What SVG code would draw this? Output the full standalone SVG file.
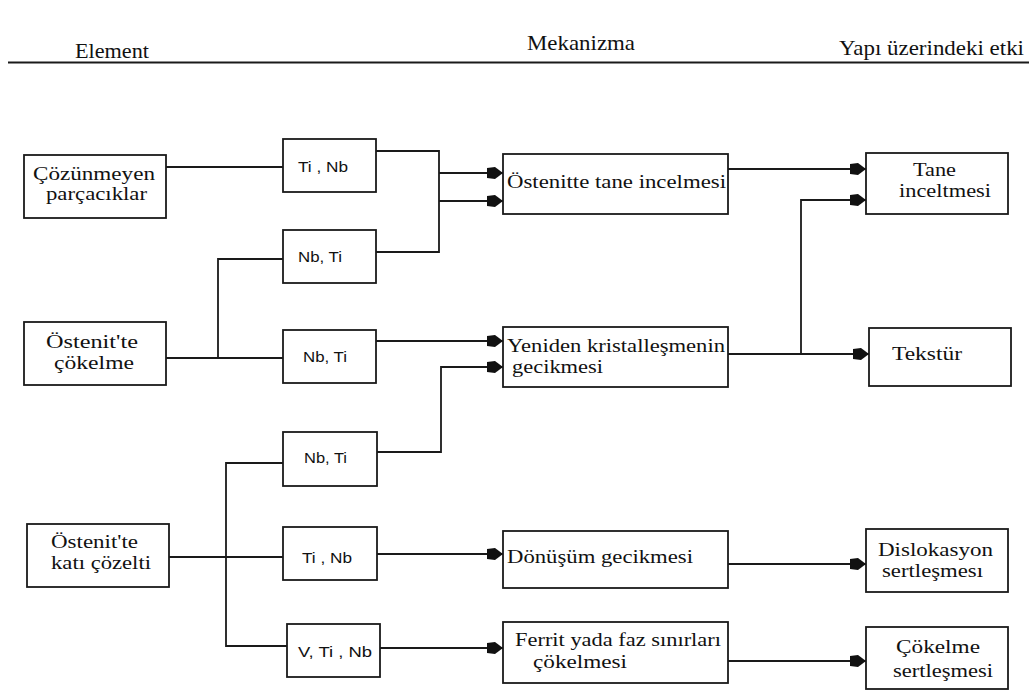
<svg xmlns="http://www.w3.org/2000/svg" width="1029" height="692" viewBox="0 0 1029 692">
<style>
.box{fill:#fff;stroke:#1a1a1a;stroke-width:1.8}
.ln{fill:none;stroke:#1a1a1a;stroke-width:1.8}
.h{font-family:"Liberation Serif","Times New Roman",serif;font-size:22px;fill:#111}
.t{font-family:"Liberation Serif","Times New Roman",serif;font-size:18px;fill:#111}
.s{font-family:"Liberation Sans",Arial,sans-serif;font-size:14px;fill:#111}
</style>
<defs>
<marker id="ah" markerUnits="userSpaceOnUse" markerWidth="18" markerHeight="14" viewBox="-17 -7 18 14" refX="0" refY="0" orient="auto">
<path d="M-16,-5 L-8,-6 L0,0 L-8,6 L-16,5 Z" fill="#111"/>
</marker>
</defs>
<rect width="1029" height="692" fill="#fff"/>
<g id="header">
<text class="h" x="75" y="58" textLength="74" lengthAdjust="spacingAndGlyphs">Element</text>
<text class="h" x="527" y="50" textLength="108" lengthAdjust="spacingAndGlyphs">Mekanizma</text>
<text class="h" x="839" y="55" textLength="185" lengthAdjust="spacingAndGlyphs">Yapı üzerindeki etki</text>
<line x1="8" y1="62.5" x2="1029" y2="62.5" stroke="#1a1a1a" stroke-width="2.2"/>
</g>
<g id="connectors">
<path class="ln" d="M166,167 H283"/>
<path class="ln" d="M376,151 H439 V252 H376"/>
<path class="ln" d="M439,173 H503" marker-end="url(#ah)"/>
<path class="ln" d="M439,201 H503" marker-end="url(#ah)"/>
<path class="ln" d="M166,358 H283"/>
<path class="ln" d="M218,358 V259 H283"/>
<path class="ln" d="M376,341 H503" marker-end="url(#ah)"/>
<path class="ln" d="M377,452 H441 V367 H503" marker-end="url(#ah)"/>
<path class="ln" d="M169,557 H283"/>
<path class="ln" d="M283,463 H226 V646 H287"/>
<path class="ln" d="M377,554 H503" marker-end="url(#ah)"/>
<path class="ln" d="M380,648 H503" marker-end="url(#ah)"/>
<path class="ln" d="M728,169 H866" marker-end="url(#ah)"/>
<path class="ln" d="M728,354 H869" marker-end="url(#ah)"/>
<path class="ln" d="M801,354 V200 H866" marker-end="url(#ah)"/>
<path class="ln" d="M728,564 H866" marker-end="url(#ah)"/>
<path class="ln" d="M728,661 H866" marker-end="url(#ah)"/>
</g>
<g id="n-cozunmeyen">
<rect class="box" x="24" y="155" width="142" height="63"/>
<text class="t" x="33" y="180" textLength="122" lengthAdjust="spacingAndGlyphs">Çözünmeyen</text>
<text class="t" x="46" y="200" textLength="101" lengthAdjust="spacingAndGlyphs">parçacıklar</text>
</g>
<g id="n-ostenit-cokelme">
<rect class="box" x="24" y="322" width="142" height="63"/>
<text class="t" x="46" y="348" textLength="92" lengthAdjust="spacingAndGlyphs">Östenit'te</text>
<text class="t" x="54" y="369" textLength="80" lengthAdjust="spacingAndGlyphs">çökelme</text>
</g>
<g id="n-ostenit-kati">
<rect class="box" x="27" y="524" width="142" height="63"/>
<text class="t" x="51" y="548" textLength="87" lengthAdjust="spacingAndGlyphs">Östenit'te</text>
<text class="t" x="51" y="569" textLength="100" lengthAdjust="spacingAndGlyphs">katı çözelti</text>
</g>
<g id="e1">
<rect class="box" x="283" y="139" width="93" height="53"/>
<text class="s" x="298" y="172" textLength="50" lengthAdjust="spacingAndGlyphs">Ti ,  Nb</text>
</g>
<g id="e2">
<rect class="box" x="283" y="230" width="93" height="53"/>
<text class="s" x="298" y="262" textLength="44" lengthAdjust="spacingAndGlyphs">Nb, Ti</text>
</g>
<g id="e3">
<rect class="box" x="283" y="330" width="93" height="53"/>
<text class="s" x="303" y="362" textLength="44" lengthAdjust="spacingAndGlyphs">Nb, Ti</text>
</g>
<g id="e4">
<rect class="box" x="283" y="432" width="94" height="54"/>
<text class="s" x="304" y="463" textLength="43" lengthAdjust="spacingAndGlyphs">Nb, Ti</text>
</g>
<g id="e5">
<rect class="box" x="283" y="527" width="94" height="53"/>
<text class="s" x="302" y="563" textLength="50" lengthAdjust="spacingAndGlyphs">Ti ,  Nb</text>
</g>
<g id="e6">
<rect class="box" x="287" y="624" width="93" height="53"/>
<text class="s" x="298" y="657" textLength="74" lengthAdjust="spacingAndGlyphs">V, Ti ,  Nb</text>
</g>
<g id="m1">
<rect class="box" x="503" y="154" width="225" height="60"/>
<text class="t" x="507" y="188" textLength="219" lengthAdjust="spacingAndGlyphs">Östenitte tane incelmesi</text>
</g>
<g id="m2">
<rect class="box" x="503" y="327" width="225" height="60"/>
<text class="t" x="507" y="352" textLength="218" lengthAdjust="spacingAndGlyphs">Yeniden kristalleşmenin</text>
<text class="t" x="512" y="373" textLength="91" lengthAdjust="spacingAndGlyphs">gecikmesi</text>
</g>
<g id="m3">
<rect class="box" x="503" y="531" width="225" height="57"/>
<text class="t" x="507" y="563" textLength="186" lengthAdjust="spacingAndGlyphs">Dönüşüm gecikmesi</text>
</g>
<g id="m4">
<rect class="box" x="503" y="622" width="225" height="61"/>
<text class="t" x="515" y="646" textLength="206" lengthAdjust="spacingAndGlyphs">Ferrit yada faz sınırları</text>
<text class="t" x="533" y="668" textLength="94" lengthAdjust="spacingAndGlyphs">çökelmesi</text>
</g>
<g id="r1">
<rect class="box" x="866" y="153" width="142" height="61"/>
<text class="t" x="913" y="176" textLength="43" lengthAdjust="spacingAndGlyphs">Tane</text>
<text class="t" x="899" y="197" textLength="92" lengthAdjust="spacingAndGlyphs">inceltmesi</text>
</g>
<g id="r2">
<rect class="box" x="869" y="328" width="142" height="58"/>
<text class="t" x="892" y="360" textLength="70" lengthAdjust="spacingAndGlyphs">Tekstür</text>
</g>
<g id="r3">
<rect class="box" x="866" y="529" width="142" height="63"/>
<text class="t" x="878" y="556" textLength="115" lengthAdjust="spacingAndGlyphs">Dislokasyon</text>
<text class="t" x="882" y="577" textLength="101" lengthAdjust="spacingAndGlyphs">sertleşmesı</text>
</g>
<g id="r4">
<rect class="box" x="866" y="627" width="142" height="62"/>
<text class="t" x="896" y="653" textLength="84" lengthAdjust="spacingAndGlyphs">Çökelme</text>
<text class="t" x="893" y="677" textLength="100" lengthAdjust="spacingAndGlyphs">sertleşmesi</text>
</g>
</svg>
